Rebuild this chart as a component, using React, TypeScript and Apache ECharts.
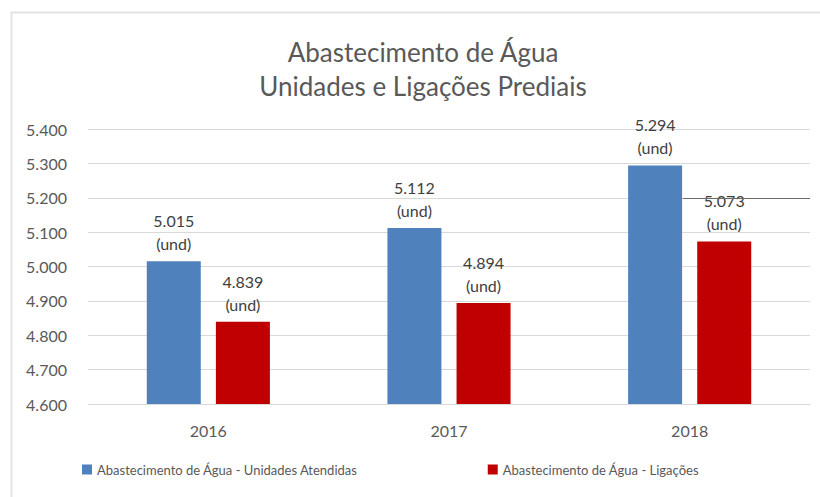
import React, { useEffect, useRef } from "react";
import * as echarts from "echarts";

const categories = ["2016", "2017", "2018"];
const unidadesAtendidas = [5015, 5112, 5294];
const ligacoes = [4839, 4894, 5073];
const seriesNames = [
  "Abastecimento de Água - Unidades Atendidas",
  "Abastecimento de Água - Ligações",
];
const titleLines = ["Abastecimento de Água", "Unidades e Ligações Prediais"];
const unitLabel = "(und)";
// stray dark segment on the 5.200 gridline (fraction of plot width, value)
const strayLine = { from: 0.824, to: 1, value: 5200 };

const fmt = (v: number) => {
  const th = Math.floor(v / 1000);
  const rest = String(Math.round(v % 1000)).padStart(3, "0");
  return `${th}.${rest}`;
};

const FONT = "Lato";

export default function App() {
  const ref = useRef<HTMLDivElement>(null);
  useEffect(() => {
    if (!ref.current) return;
    const chart = echarts.init(ref.current, undefined, { renderer: "svg" });
    const label = {
      show: true,
      position: "top" as const,
      distance: 6,
      color: "#404040",
      fontFamily: FONT,
      fontSize: 16,
      lineHeight: 23,
      formatter: (p: any) => `${fmt(p.value)}\n${unitLabel}`,
    };
    chart.setOption({
      animation: false,
      backgroundColor: "#ffffff",
      graphic: [
        {
          type: "rect",
          shape: { x: 11.5, y: 12.5, width: 840, height: 520 },
          style: { fill: "none", stroke: "#e3e3e3", lineWidth: 2 },
          silent: true,
        },
      ],
      title: {
        text: titleLines.join("\n"),
        left: 418,
        textAlign: "center",
        top: 30,
        textStyle: {
          color: "#595959",
          fontFamily: FONT,
          fontSize: 26,
          fontWeight: "normal",
          lineHeight: 34,
        },
      },
      legend: {
        left: 77,
        top: 458,
        itemWidth: 10,
        itemHeight: 10,
        itemGap: 130,
        icon: "rect",
        textStyle: { color: "#595959", fontFamily: FONT, fontSize: 13 },
        data: seriesNames,
      },
      grid: { left: 88, right: 10, top: 129, bottom: 93 },
      xAxis: [
        {
          type: "category",
          data: categories,
          axisLine: { lineStyle: { color: "#d9d9d9" } },
          axisTick: { show: false },
          axisLabel: {
            color: "#595959",
            fontFamily: FONT,
            fontSize: 16,
            margin: 18,
          },
        },
        {
          type: "value",
          min: 0,
          max: 1,
          show: false,
        },
      ],
      yAxis: {
        type: "value",
        min: 4600,
        max: 5400,
        interval: 100,
        axisLine: { show: false },
        axisTick: { show: false },
        splitLine: { lineStyle: { color: "#d9d9d9" } },
        axisLabel: {
          color: "#595959",
          fontFamily: FONT,
          fontSize: 16,
          margin: 21,
          formatter: (v: number) => fmt(v),
        },
      },
      series: [
        {
          name: seriesNames[0],
          type: "bar",
          data: unidadesAtendidas,
          barWidth: 54,
          barGap: "28%",
          itemStyle: { color: "#4F81BD" },
          label,
        },
        {
          name: seriesNames[1],
          type: "bar",
          data: ligacoes,
          barWidth: 54,
          itemStyle: { color: "#C00000" },
          label,
        },
        {
          name: "stray",
          type: "line",
          xAxisIndex: 1,
          data: [],
          silent: true,
          z: 3,
          markLine: {
            silent: true,
            symbol: "none",
            label: { show: false },
            lineStyle: { color: "#6a6a6a", type: "solid", width: 1 },
            data: [
              [
                { coord: [strayLine.from, strayLine.value] },
                { coord: [strayLine.to, strayLine.value] },
              ],
            ],
          },
        },
      ],
    });
    return () => chart.dispose();
  }, []);
  return (
    <div
      ref={ref}
      style={{ position: "fixed", left: 0, top: 0, width: 820, height: 497 }}
    />
  );
}
